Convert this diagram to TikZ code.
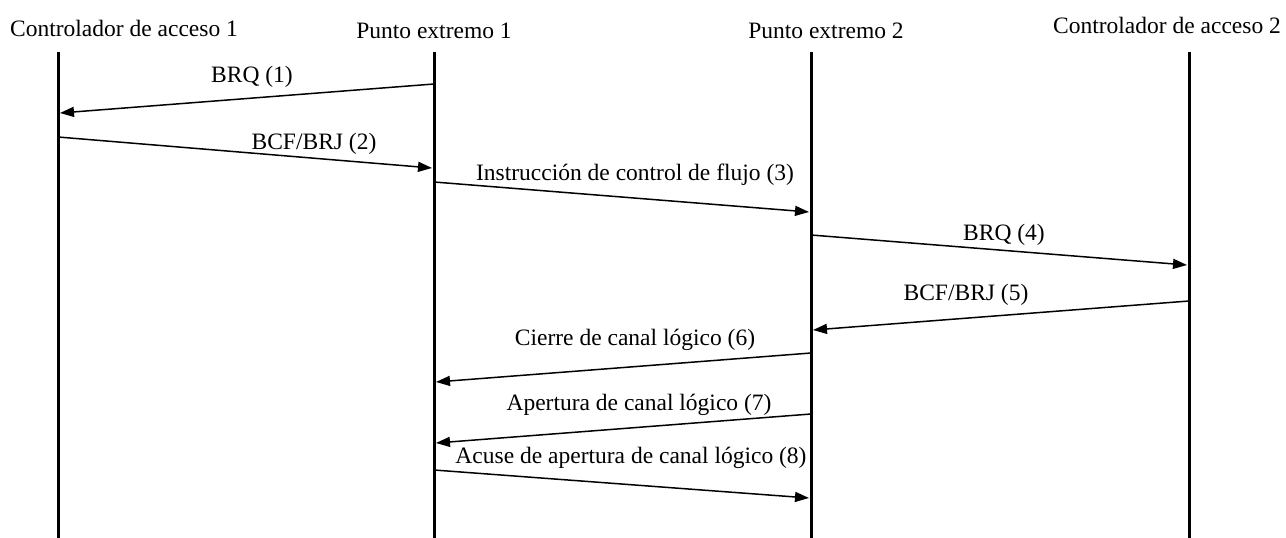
\documentclass[tikz,border=0pt]{standalone}
\usepackage{fontspec}
\setmainfont{Liberation Serif}
\usetikzlibrary{arrows.meta}
\begin{document}
\begin{tikzpicture}[x=1pt,y=-1pt,
  lbl/.style={anchor=base,inner sep=0pt,font=\fontsize{23.5}{28}\selectfont},
  life/.style={line width=3pt},
  msg/.style={line width=1.5pt,-{Triangle[length=14pt,width=10pt]}}]
\useasboundingbox (0,0) rectangle (1286,538);
% headers
\node[lbl] (h1) at (124,36) {Controlador de acceso 1};
\node[lbl] (h2) at (434,38) {Punto extremo 1};
\node[lbl] (h3) at (826,38) {Punto extremo 2};
\node[lbl] (h4) at (1167,33) {Controlador de acceso 2};
% lifelines
\coordinate (t1) at (58,52);  \coordinate (b1) at (58,538);
\coordinate (t2) at (434,52); \coordinate (b2) at (434,538);
\coordinate (t3) at (811,52); \coordinate (b3) at (811,538);
\coordinate (t4) at (1189,52);\coordinate (b4) at (1189,538);
\draw[life] (t1) -- (b1);
\draw[life] (t2) -- (b2);
\draw[life] (t3) -- (b3);
\draw[life] (t4) -- (b4);
% message endpoints
\coordinate (m1s) at (434,84);  \coordinate (m1e) at (60,113);
\coordinate (m2s) at (58,137);  \coordinate (m2e) at (432,168);
\coordinate (m3s) at (434,182); \coordinate (m3e) at (809,212);
\coordinate (m4s) at (811,235); \coordinate (m4e) at (1187,265);
\coordinate (m5s) at (1189,301);\coordinate (m5e) at (813,330);
\coordinate (m6s) at (811,353); \coordinate (m6e) at (436,382);
\coordinate (m7s) at (811,414); \coordinate (m7e) at (436,443);
\coordinate (m8s) at (434,470); \coordinate (m8e) at (809,498);
\draw[msg] (m1s) -- (m1e);
\draw[msg] (m2s) -- (m2e);
\draw[msg] (m3s) -- (m3e);
\draw[msg] (m4s) -- (m4e);
\draw[msg] (m5s) -- (m5e);
\draw[msg] (m6s) -- (m6e);
\draw[msg] (m7s) -- (m7e);
\draw[msg] (m8s) -- (m8e);
% labels
\node[lbl] (l1) at (252,82) {BRQ (1)};
\node[lbl] (l2) at (314,149) {BCF/BRJ (2)};
\node[lbl] (l3) at (635,180) {Instrucción de control de flujo (3)};
\node[lbl] (l4) at (1004,240) {BRQ (4)};
\node[lbl] (l5) at (966,300) {BCF/BRJ (5)};
\node[lbl] (l6) at (635,345) {Cierre de canal lógico (6)};
\node[lbl] (l7) at (639,410) {Apertura de canal lógico (7)};
\node[lbl] (l8) at (631,463) {Acuse de apertura de canal lógico (8)};
\end{tikzpicture}
\end{document}
